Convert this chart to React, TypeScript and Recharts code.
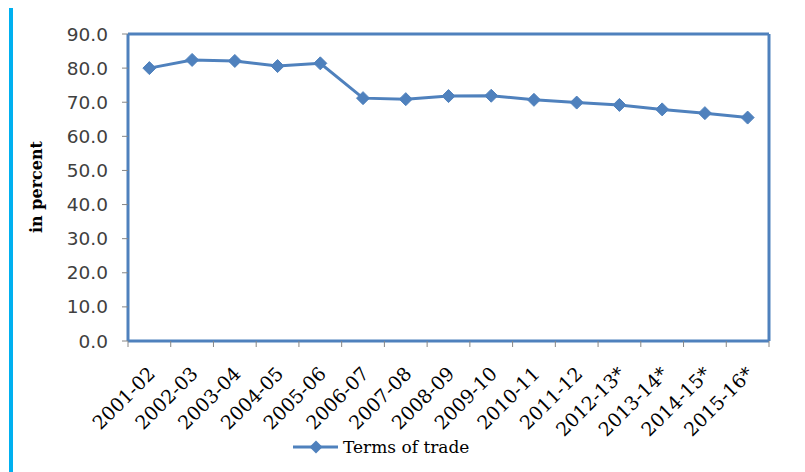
import React from "react";
import { LineChart, Line, XAxis, YAxis, CartesianGrid } from "recharts";

// Fiscal years on the category axis (* = projected)
const periods = [
  "2001-02", "2002-03", "2003-04", "2004-05", "2005-06",
  "2006-07", "2007-08", "2008-09", "2009-10", "2010-11",
  "2011-12", "2012-13*", "2013-14*", "2014-15*", "2015-16*",
];

// Terms of trade, in percent
const termsOfTrade = [
  80.0, 82.4, 82.1, 80.6, 81.4,
  71.2, 70.9, 71.8, 71.9, 70.7,
  69.9, 69.2, 67.9, 66.8, 65.5,
];

const yTicks = [0, 10, 20, 30, 40, 50, 60, 70, 80, 90];

const data = periods.map((period, i) => ({ period, value: termsOfTrade[i] }));

const W = 805;
const H = 472;
const PLOT_LEFT = 128;
const PLOT_RIGHT = 769;
const PLOT_TOP = 34;
const PLOT_BOTTOM = 341;
const BLUE = "#4F81BD";
const SERIF = "'DejaVu Serif', serif";
const SANS = "'DejaVu Sans', sans-serif";

const band = (PLOT_RIGHT - PLOT_LEFT) / periods.length;

const Diamond = (props: any) => {
  const { cx, cy } = props;
  if (cx == null || cy == null) return null;
  const r = 6.5;
  return (
    <polygon
      points={`${cx},${cy - r} ${cx + r},${cy} ${cx},${cy + r} ${cx - r},${cy}`}
      fill={BLUE}
      stroke={BLUE}
      strokeWidth={1}
    />
  );
};

const XTick = (props: any) => {
  const { x, y, payload, index } = props;
  const left = x - band / 2;
  const isLast = index === periods.length - 1;
  const tx = x + 7;
  const ty = y + 34;
  return (
    <g>
      <line x1={left} y1={y} x2={left} y2={y + 6} stroke="#868686" strokeWidth={1} />
      {isLast && (
        <line x1={x + band / 2} y1={y} x2={x + band / 2} y2={y + 6} stroke="#868686" strokeWidth={1} />
      )}
      <text
        x={tx}
        y={ty}
        textAnchor="end"
        transform={`rotate(-45 ${tx} ${ty})`}
        fontFamily={SERIF}
        fontSize={19}
        fill="#000"
      >
        {payload.value}
      </text>
    </g>
  );
};

export default function App() {
  return (
    <div style={{ position: "relative", width: W, height: H, margin: "-8px 0 0 -8px", background: "#fff" }}>
      <div
        style={{
          position: "absolute",
          left: 9,
          top: 4,
          width: W,
          height: H,
          borderTop: "4px solid #00B0F0",
          borderLeft: "4px solid #00B0F0",
          boxSizing: "border-box",
        }}
      />
      <div style={{ position: "absolute", left: 0, top: 0 }}>
        <LineChart
          width={W}
          height={H}
          data={data}
          margin={{ top: PLOT_TOP, right: W - PLOT_RIGHT, bottom: 0, left: 0 }}
        >
          {/* top and right edges of the plot frame */}
          <CartesianGrid
            stroke={BLUE}
            strokeWidth={3}
            horizontalCoordinatesGenerator={({ offset }: any) => [offset.top]}
            verticalCoordinatesGenerator={({ offset }: any) => [offset.left + offset.width]}
          />
          <XAxis
            dataKey="period"
            height={H - PLOT_BOTTOM}
            interval={0}
            padding={{ left: band / 2, right: band / 2 }}
            tickLine={false}
            tickSize={0}
            tickMargin={0}
            axisLine={{ stroke: BLUE, strokeWidth: 3 }}
            tick={<XTick />}
          />
          <YAxis
            width={PLOT_LEFT}
            domain={[0, 90]}
            ticks={yTicks}
            interval={0}
            tickSize={6}
            tickMargin={14}
            tickLine={{ stroke: "#868686" }}
            axisLine={{ stroke: BLUE, strokeWidth: 3 }}
            tickFormatter={(v: number) => v.toFixed(1)}
            tick={{ fill: "#404040", fontSize: 18.5, fontFamily: SANS }}
          />
          <Line
            type="linear"
            dataKey="value"
            stroke={BLUE}
            strokeWidth={3}
            dot={<Diamond />}
            activeDot={false}
            isAnimationActive={false}
          />
        </LineChart>
      </div>
      <svg
        width={W}
        height={H}
        style={{ position: "absolute", left: 0, top: 0, pointerEvents: "none" }}
      >
        <text
          x={42}
          y={187}
          textAnchor="middle"
          transform="rotate(-90 42 187)"
          fontFamily={SERIF}
          fontSize={16}
          fontWeight="bold"
          fill="#000"
        >
          in percent
        </text>
        <line x1={293} y1={447} x2={338} y2={447} stroke={BLUE} strokeWidth={3} />
        <polygon points="316,440.5 322.5,447 316,453.5 309.5,447" fill={BLUE} />
        <text x={343} y={453} fontFamily={SERIF} fontSize={17} fill="#000">
          Terms of trade
        </text>
      </svg>
    </div>
  );
}
